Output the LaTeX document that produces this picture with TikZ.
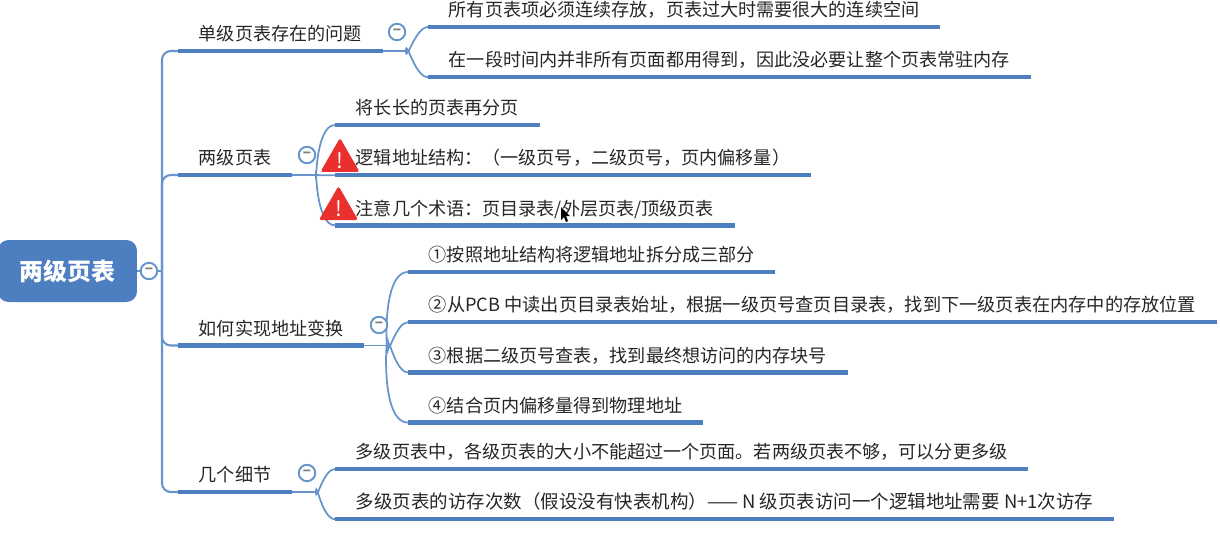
\documentclass[tikz,border=0pt]{standalone}
\usepackage{fontspec}
\setmainfont{Noto Sans CJK SC}
\definecolor{mapBlue}{RGB}{76,126,192}
\definecolor{mapLine}{RGB}{104,148,204}
\definecolor{mapText}{RGB}{38,38,38}
\definecolor{mapRed}{RGB}{234,48,46}
\usetikzlibrary{positioning,shapes.geometric}

\begin{document}
\begin{tikzpicture}[x=0.02cm, y=-0.02cm,
  rootbox/.style={fill=mapBlue, rounded corners=6pt, minimum width=2.78cm,
                  minimum height=1.24cm, text=white, font=\fontsize{13.6}{16}\selectfont\bfseries},
  topic/.style={minimum height=0.7cm, inner xsep=0.41cm, inner ysep=0pt, text=mapText, anchor=south west,
                text height=3.2mm, text depth=0.2mm, font=\fontsize{10.3}{12}\selectfont},
  bar/.style={mapBlue, line width=2.6pt},
  trunk/.style={mapLine, line width=1.2pt, rounded corners=5pt},
  link/.style={mapLine, line width=1pt},
  fold/.style={circle, draw=mapLine, line width=1.1pt, fill=white, minimum size=0.33cm, inner sep=0pt,
               text=gray, font=\fontsize{9}{9}\selectfont\bfseries},
  warn/.style={regular polygon, regular polygon sides=3, fill=mapRed, rounded corners=1.5pt, inner sep=0pt,
               text=white, font=\fontsize{12}{12}\selectfont}
]
  \useasboundingbox (0,0) rectangle (1220,535);

  \node[rootbox] (root) at (67.5,271) {两级页表};
  \coordinate (tr) at (162,271);

  \node[topic] (b1) at (178,51)  {单级页表存在的问题};
  \node[topic] (b2) at (178,175) {两级页表};
  \node[topic] (b3) at (178,345.5) {如何实现地址变换};
  \node[topic] (b4) at (178,492) {几个细节};

  \node[topic] (a1) at (428,27) {所有页表项必须连续存放，页表过大时需要很大的连续空间};
  \node[topic, below=0.29cm of a1.south west, anchor=north west] (a2) {在一段时间内并非所有页面都用得到，因此没必要让整个页表常驻内存};

  \node[topic] (c1) at (335,125) {将长长的页表再分页};
  \node[topic, below=0.29cm of c1.south west, anchor=north west] (c2) {逻辑地址结构：（一级页号，二级页号，页内偏移量）};
  \node[topic, below=0.29cm of c2.south west, anchor=north west] (c3) {注意几个术语：页目录表/外层页表/顶级页表};

  \node[topic] (d1) at (408,272) {①按照地址结构将逻辑地址拆分成三部分};
  \node[topic, font=\fontsize{10.36}{12}\selectfont, below=0.29cm of d1.south west, anchor=north west] (d2) {②从PCB 中读出页目录表始址，根据一级页号查页目录表，找到下一级页表在内存中的存放位置};
  \node[topic, below=0.29cm of d2.south west, anchor=north west] (d3) {③根据二级页号查表，找到最终想访问的内存块号};
  \node[topic, below=0.29cm of d3.south west, anchor=north west] (d4) {④结合页内偏移量得到物理地址};

  \node[topic] (e1) at (335,469) {多级页表中，各级页表的大小不能超过一个页面。若两级页表不够，可以分更多级};
  \node[topic, font=\fontsize{10.52}{12}\selectfont, below=0.29cm of e1.south west, anchor=north west] (e2) {多级页表的访存次数（假设没有快表机构）—— N 级页表访问一个逻辑地址需要 N+1次访存};

  \coordinate (h1) at (406,51);
  \coordinate (h2) at (316,175);
  \coordinate (h3) at (388,345.5);
  \coordinate (h4) at (316,492);

  \draw[link] (root.east) -- (tr);
  \draw[trunk] (b1.south west) -| (tr) |- (b4.south west);
  \draw[trunk] (b2.south west) -| (tr);
  \draw[trunk] (b3.south west) -| (tr);

  \draw[link] (b1.south east) -- (h1);
  \draw[link] (h1) to[out=-90,in=180] (a1.south west);
  \draw[link] (h1) to[out=90,in=180] (a2.south west);

  \draw[link] (b2.south east) -- (c2.south west);
  \draw[link] (h2) to[out=-90,in=180] (c1.south west);
  \draw[link] (h2) to[out=90,in=180] (c3.south west);

  \draw[link] (b3.south east) -- (h3);
  \draw[link] (h3) to[out=-90,in=180] (d1.south west);
  \draw[link] (h3) to[out=-90,in=180] (d2.south west);
  \draw[link] (h3) to[out=90,in=180] (d3.south west);
  \draw[link] (h3) to[out=90,in=180] (d4.south west);

  \draw[link] (b4.south east) -- (h4);
  \draw[link] (h4) to[out=-90,in=180] (e1.south west);
  \draw[link] (h4) to[out=90,in=180] (e2.south west);

  \foreach \n in {b1,b2,b3,b4,a1,a2,c1,c2,c3,d1,d2,d3,d4,e1,e2}
    \draw[bar] (\n.south west) -- (\n.south east);

  \node[fold] (f0) at (149,271) {–};
  \node[fold] (f1) at (397,32)  {–};
  \node[fold] (f2) at (307,155) {–};
  \node[fold] (f3) at (379,325) {–};
  \node[fold] (f4) at (307,473) {–};

  \node[warn, minimum size=0.83cm] (w1) at (340,160.6) {!};
  \node[warn, minimum size=0.9cm]  (w2) at (338.5,208.7) {!};

  \fill[black] (561,207) -- (561,220) -- (564,217) -- (566,222) -- (568,221) -- (566,216) -- (570,216) -- cycle;
\end{tikzpicture}
\end{document}
